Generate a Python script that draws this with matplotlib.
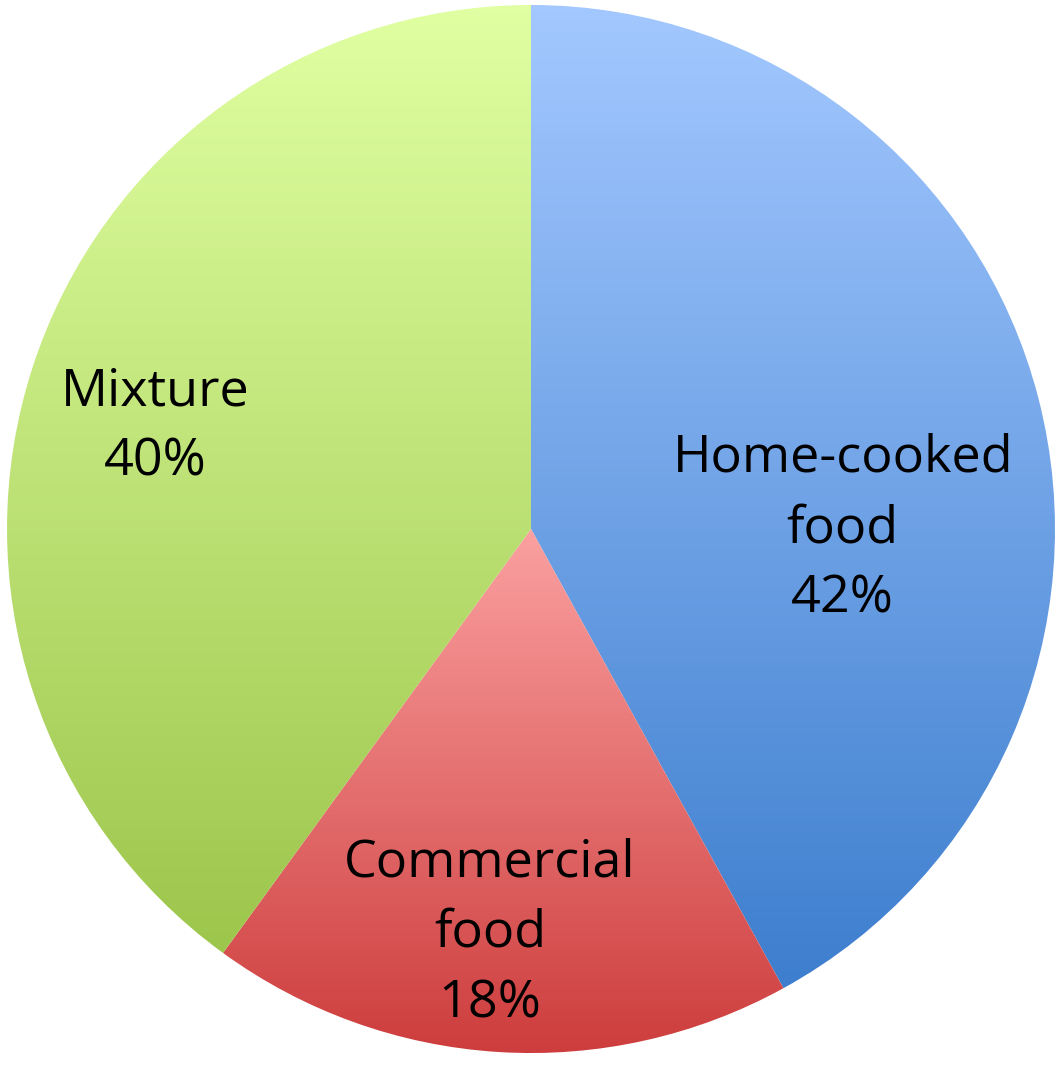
import matplotlib
matplotlib.use("Agg")
import matplotlib.pyplot as plt
import numpy as np
from matplotlib.colors import LinearSegmentedColormap

# data
labels = ["Home-cooked\nfood\n42%", "Commercial\nfood\n18%", "Mixture\n40%"]
shares = [42, 18, 40]

# top / bottom colours of each wedge's vertical gradient
top_colors = ["#A3C8FF", "#FBA0A0", "#E0FFA2"]
bottom_colors = ["#3D7ECE", "#CD3C3C", "#9DC64C"]

# label positions (layout, in units of the pie radius)
label_pos = [(0.595, 0.0), (-0.078, -0.771), (-0.718, 0.195)]

plt.rcParams['font.family'] = ['Open Sans', 'DejaVu Sans']

fig = plt.figure(figsize=(10.64, 10.70), dpi=100)
ax = fig.add_axes([0, 0, 1, 1])

wedges, _ = ax.pie(shares, startangle=90, counterclock=False,
                   radius=1.0, wedgeprops=dict(linewidth=0, edgecolor='none'))

ax.axis('off')

grad = np.linspace(0, 1, 256).reshape(-1, 1)
for w, c_top, c_bot in zip(wedges, top_colors, bottom_colors):
    w.set_facecolor('none')
    verts = w.get_path().vertices
    x0, x1 = verts[:, 0].min(), verts[:, 0].max()
    y0, y1 = verts[:, 1].min(), verts[:, 1].max()
    cmap = LinearSegmentedColormap.from_list('g', [c_top, c_bot])
    im = ax.imshow(grad, cmap=cmap, aspect='auto',
                   extent=(x0, x1, y0, y1), origin='upper',
                   interpolation='bilinear', zorder=1)
    im.set_clip_path(w)

ax.set_aspect('auto')
ax.set_xlim(-1.0134, 1.0172)
ax.set_ylim(-1.0324, 1.0095)

for text, (tx, ty) in zip(labels, label_pos):
    ax.text(tx, ty, text, ha='center', va='center', fontsize=37.5,
            color='black', linespacing=1.5, zorder=3)

fig.savefig("out.png", dpi=100)
